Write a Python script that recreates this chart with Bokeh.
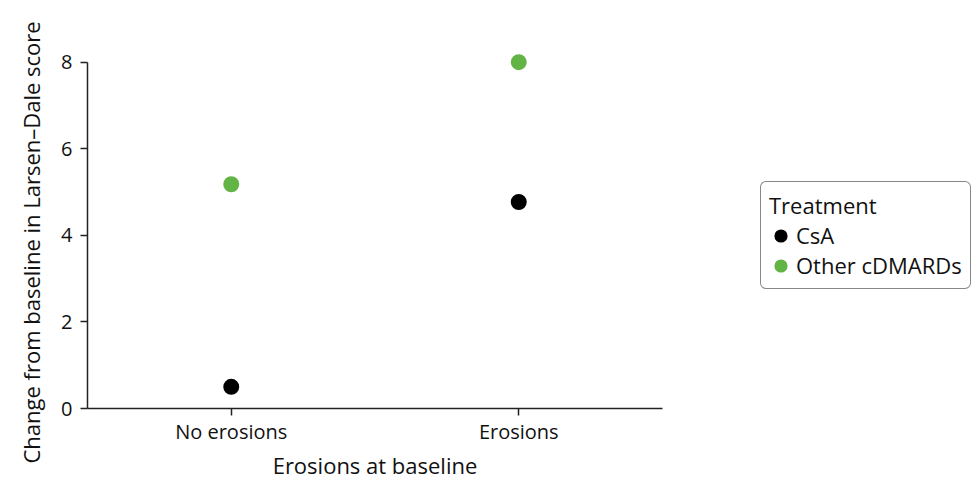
from bokeh.plotting import figure
from bokeh.models import FactorRange, Range1d, Legend, LegendItem, ColumnDataSource, FixedTicker, Title
from bokeh.embed import file_html
from bokeh.resources import INLINE

categories = ["No erosions", "Erosions"]
csa_values = [0.5, 4.77]
other_values = [5.18, 8.0]
y_ticks = [0, 2, 4, 6, 8]
series_names = ["CsA", "Other cDMARDs"]
series_colors = ["#000000", "#62b445"]
y_label = "Change from baseline in Larsen\u2013Dale score"
x_label = "Erosions at baseline"
legend_title = "Treatment"

FONT = "Open Sans"

p = figure(frame_width=575, frame_height=368, output_backend="svg", toolbar_location=None,
           x_range=FactorRange(factors=categories, range_padding=0),
           y_range=Range1d(0, 8.5))
p.min_border_left = 87
p.min_border_top = 40
p.min_border_bottom = 66
p.min_border_right = 0
p.outline_line_color = None
p.grid.visible = False

src1 = ColumnDataSource(dict(x=categories, y=csa_values))
src2 = ColumnDataSource(dict(x=categories, y=other_values))
r1 = p.scatter("x", "y", source=src1, size=12, line_width=4,
               fill_color=series_colors[0], line_color=series_colors[0])
r2 = p.scatter("x", "y", source=src2, size=12, line_width=4,
               fill_color=series_colors[1], line_color=series_colors[1])

for ax in (p.xaxis[0], p.yaxis[0]):
    ax.axis_line_color = "#222222"
    ax.axis_line_width = 1.5
    ax.major_tick_line_color = "#222222"
    ax.major_tick_line_width = 1.5
    ax.major_tick_out = 7
    ax.major_tick_in = 0
    ax.minor_tick_line_color = None
    ax.major_label_text_font = FONT
    ax.major_label_text_font_size = "20px"
    ax.major_label_text_color = "#111111"
    ax.axis_label_text_font = FONT
    ax.axis_label_text_font_size = "22px"
    ax.axis_label_text_font_style = "normal"
    ax.axis_label_text_color = "#111111"

p.yaxis.ticker = FixedTicker(ticks=y_ticks)
p.yaxis.bounds = (0, 8)
p.yaxis.major_label_standoff = 8
p.xaxis.axis_label = x_label
p.xaxis.axis_label_standoff = 2
p.xaxis.major_label_standoff = 2

ytitle = Title(text=y_label, align="left", vertical_align="top", offset=-55, standoff=22,
               text_font=FONT, text_font_size="22px", text_font_style="normal",
               text_color="#111111")
p.add_layout(ytitle, "left")

legend = Legend(items=[LegendItem(label=series_names[0], renderers=[r1]),
                       LegendItem(label=series_names[1], renderers=[r2])],
                title=legend_title)
legend.title_text_font = FONT
legend.title_text_font_size = "22px"
legend.title_text_font_style = "normal"
legend.title_text_color = "#111111"
legend.title_standoff = 0
legend.label_text_font = FONT
legend.label_text_font_size = "22px"
legend.label_text_color = "#111111"
legend.label_standoff = 4
legend.label_height = 23
legend.glyph_width = 23
legend.glyph_height = 23
legend.spacing = 0
legend.padding = 8
legend.margin = 0
legend.border_line_color = "#111111"
legend.border_line_width = 1.2
legend.border_radius = 6
legend.location = (98, 119)
p.add_layout(legend, "right")

open("out.html", "w").write(file_html(p, INLINE))
